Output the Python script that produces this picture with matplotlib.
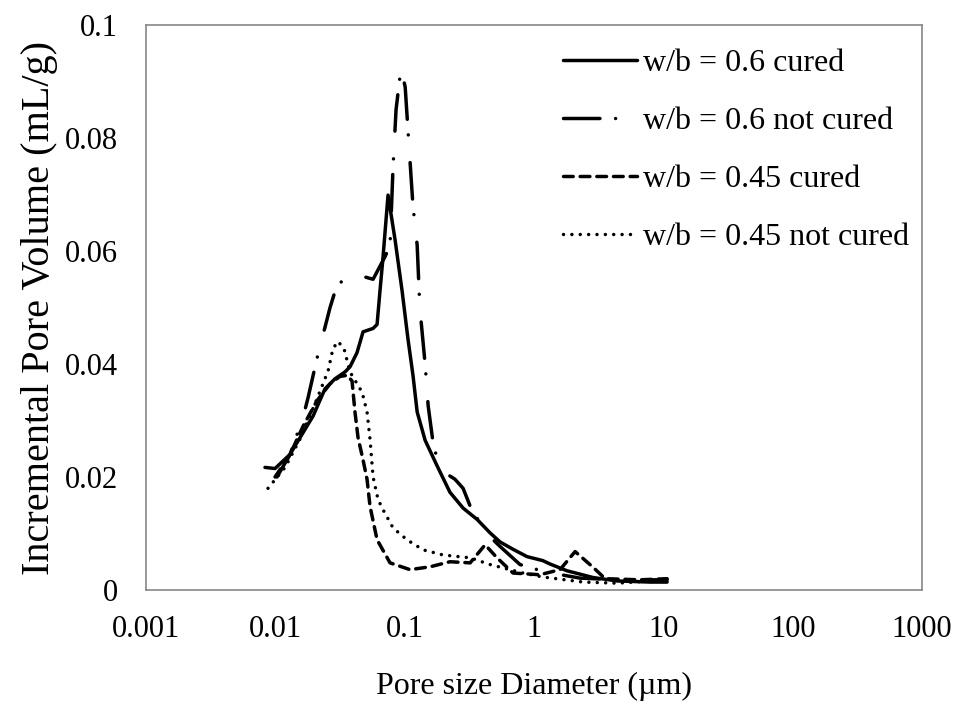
import matplotlib
matplotlib.use("Agg")
import matplotlib.pyplot as plt
from matplotlib.ticker import FixedLocator, FuncFormatter, NullLocator

plt.rcParams['font.family'] = ['Liberation Serif', 'DejaVu Serif']

# pore diameter (um) and incremental pore volume (mL/g)
d_06c = [0.0103, 0.0142, 0.0196, 0.0242, 0.0290, 0.0346, 0.0378, 0.0428, 0.0477,
         0.0570, 0.0612, 0.0645, 0.0681, 0.0744, 0.0843, 0.0955, 0.106, 0.116,
         0.125, 0.144, 0.178, 0.224, 0.283, 0.363, 0.458, 0.547, 0.689, 0.885,
         1.17, 1.33, 1.80, 2.87, 4.39, 7.91, 10.7]
v_06c = [0.0200, 0.0255, 0.0308, 0.0356, 0.0374, 0.0386, 0.0395, 0.0420, 0.0457,
         0.0463, 0.0470, 0.0530, 0.0590, 0.0699, 0.0620, 0.0530, 0.0445, 0.0380,
         0.0315, 0.0265, 0.0220, 0.0173, 0.0145, 0.0125, 0.0101, 0.0085, 0.0072,
         0.0059, 0.0052, 0.0046, 0.0034, 0.0022, 0.0016, 0.0014, 0.0014]

d_06n = [0.00832, 0.00995, 0.0130, 0.0164, 0.0179, 0.0210, 0.0230, 0.0265, 0.0300,
         0.0399, 0.0570, 0.0705, 0.0771, 0.0813, 0.0858, 0.0938, 0.101, 0.108,
         0.116, 0.125, 0.131, 0.144, 0.152, 0.166, 0.181, 0.213, 0.245, 0.283,
         0.332, 0.458, 0.547, 0.780, 1.22, 2.27, 4.64, 10.7]
v_06n = [0.0217, 0.0215, 0.0240, 0.0306, 0.0340, 0.0410, 0.0445, 0.0500, 0.0540,
         0.0560, 0.0550, 0.0590, 0.0610, 0.0747, 0.0850, 0.0925, 0.0890, 0.0787,
         0.0680, 0.0610, 0.0500, 0.0400, 0.0326, 0.0260, 0.0226, 0.0205, 0.0196,
         0.0180, 0.0140, 0.0094, 0.0077, 0.0045, 0.0032, 0.0021, 0.0018, 0.0018]

d_045c = [0.00995, 0.0130, 0.0164, 0.0210, 0.0265, 0.0316, 0.0359, 0.0392, 0.0413,
          0.0436, 0.0477, 0.0512, 0.0540, 0.0612, 0.0771, 0.110, 0.157, 0.224,
          0.321, 0.419, 0.518, 0.689, 1.11, 1.59, 2.08, 2.87, 3.55, 6.62, 10.7]
v_045c = [0.0200, 0.0240, 0.0290, 0.0335, 0.0365, 0.0378, 0.0380, 0.0370, 0.0315,
          0.0270, 0.0230, 0.0196, 0.0148, 0.0089, 0.0048, 0.0036, 0.0041, 0.0050,
          0.0048, 0.0080, 0.0057, 0.0030, 0.0027, 0.0036, 0.0068, 0.0040, 0.0020,
          0.0018, 0.0020]

d_045n = [0.00878, 0.0119, 0.0155, 0.0203, 0.0256, 0.0279, 0.0305, 0.0340, 0.0378,
          0.0469, 0.0512, 0.0540, 0.0570, 0.0623, 0.0681, 0.0813, 0.104, 0.139,
          0.198, 0.321, 0.458, 0.824, 1.17, 2.40, 4.39, 10.7]
v_045n = [0.0180, 0.0217, 0.0267, 0.0330, 0.0388, 0.0427, 0.0440, 0.0427, 0.0386,
          0.0350, 0.0315, 0.0267, 0.0200, 0.0160, 0.0142, 0.0110, 0.0089, 0.0071,
          0.0062, 0.0057, 0.0045, 0.0030, 0.0023, 0.0014, 0.0012, 0.0018]

labels = ['w/b = 0.6 cured', 'w/b = 0.6 not cured', 'w/b = 0.45 cured',
          'w/b = 0.45 not cured']

fig = plt.figure(figsize=(9.56, 7.16), dpi=100)
ax = fig.add_axes([0.1527, 0.176, 0.8117, 0.789])

lw = 2.5
ax.plot(d_06c, v_06c, color='black', lw=lw, solid_capstyle='round',
        label=labels[0])
ax.plot(d_06n, v_06n, color='black', lw=lw, dashes=(10.5, 4.5, 0.01, 8),
        dash_capstyle='round', label=labels[1])
ax.plot(d_045c, v_045c, color='black', lw=lw, dashes=(2.8, 2.0),
        dash_capstyle='round', label=labels[2])
ax.plot(d_045n, v_045n, color='black', lw=lw, dashes=(0.01, 2.4),
        dash_capstyle='round', label=labels[3])

ax.set_xscale('log')
ax.set_xlim(0.001, 1000)
ax.set_ylim(0, 0.1)
ax.xaxis.set_major_locator(FixedLocator([0.001, 0.01, 0.1, 1, 10, 100, 1000]))
ax.xaxis.set_minor_locator(NullLocator())
ax.xaxis.set_major_formatter(FuncFormatter(lambda v, p: f"{v:g}"))
ax.yaxis.set_major_locator(FixedLocator([0, 0.02, 0.04, 0.06, 0.08, 0.1]))
ax.yaxis.set_major_formatter(FuncFormatter(lambda v, p: f"{v:g}"))
ax.tick_params(axis='both', length=0, labelsize=22)
ax.tick_params(axis='x', pad=18)
ax.tick_params(axis='y', pad=20)

for s in ax.spines.values():
    s.set_color('#868686')
    s.set_linewidth(1.2)

ax.set_xlabel('Pore size Diameter (µm)', fontsize=23, labelpad=20)
ax.set_ylabel('Incremental Pore Volume (mL/g)', fontsize=29, labelpad=5)

ax.legend(loc='upper left', frameon=False, fontsize=23, handlelength=2.3,
          handletextpad=0.2, labelspacing=0.9, borderpad=0, borderaxespad=0,
          bbox_to_anchor=(0.538, 0.958))

fig.savefig('out.png', dpi=100)
